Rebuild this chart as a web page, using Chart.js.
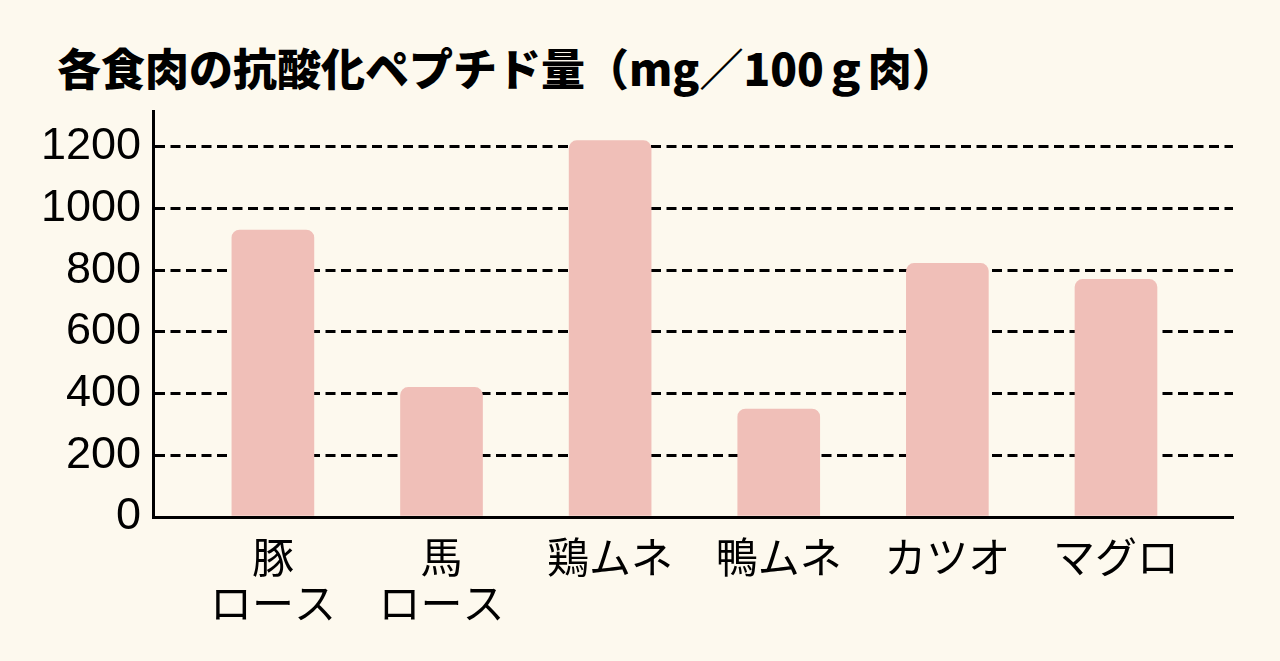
<!DOCTYPE html>
<html lang="ja">
<head>
<meta charset="utf-8">
<script src="https://cdn.jsdelivr.net/npm/chart.js@4.4.1/dist/chart.umd.min.js"></script>
<style>
  html, body { margin: 0; padding: 0; background: #fdf9ee; }
  #wrap { position: relative; width: 1280px; height: 661px; overflow: hidden; }
  #title {
    position: absolute; left: 57px; top: 45px; margin: 0;
    font-family: "Noto Sans CJK JP", sans-serif; font-weight: 900;
    font-size: 44px; line-height: 44px; color: #000; white-space: nowrap;
  }
  canvas { position: absolute; left: 0; top: 0; }
</style>
</head>
<body>
<div id="wrap">
  <div id="title">各食肉の抗酸化ペプチド量（mg／100ｇ肉）</div>
  <canvas id="c" width="1280" height="661"></canvas>
</div>
<script>
const categories = [["豚", "ロース"], ["馬", "ロース"], "鶏ムネ", "鴨ムネ", "カツオ", "マグロ"];
const peptideValues = [930, 420, 1220, 350, 822, 770];
const yTickValues = [0, 200, 400, 600, 800, 1000, 1200];

const ctx = document.getElementById('c').getContext('2d');
new Chart(ctx, {
  type: 'bar',
  data: {
    datasets: [{
      data: peptideValues.map((v, i) => ({ x: i, y: v })),
      backgroundColor: '#f0bfb8',
      borderWidth: 0,
      borderRadius: 8,
      borderSkipped: 'start',
      barThickness: 82
    }]
  },
  options: {
    responsive: false,
    devicePixelRatio: 1,
    animation: false,
    layout: { padding: { top: 111, right: 47, bottom: 0, left: 0 } },
    plugins: { legend: { display: false }, tooltip: { enabled: false }, title: { display: false } },
    scales: {
      x: {
        type: 'linear',
        offset: false,
        min: -0.711,
        max: 5.694,
        grid: { display: false, drawTicks: false, offset: false },
        border: { display: true, color: '#000', width: 3 },
        afterBuildTicks: (axis) => { axis.ticks = categories.map((_, i) => ({ value: i })); },
        afterFit: (axis) => { axis.height = 144; },
        ticks: {
          autoSkip: false,
          maxRotation: 0,
          minRotation: 0,
          padding: 17,
          color: '#000',
          font: { family: '"Noto Sans CJK JP", sans-serif', size: 42, lineHeight: 1.1 },
          callback: (v) => categories[v]
        }
      },
      y: {
        min: 0,
        max: 1316,
        grid: { display: true, color: '#000', lineWidth: 3, drawTicks: false },
        border: { display: true, color: '#000', width: 3, dash: [10, 5.5] },
        afterBuildTicks: (axis) => { axis.ticks = yTickValues.map(v => ({ value: v })); },
        afterFit: (axis) => { axis.width = 153; },
        ticks: {
          padding: 12,
          color: '#000',
          font: { family: '"Liberation Sans", Arial, sans-serif', size: 45 },
          callback: (v) => String(v)
        }
      }
    }
  }
});
</script>
</body>
</html>
